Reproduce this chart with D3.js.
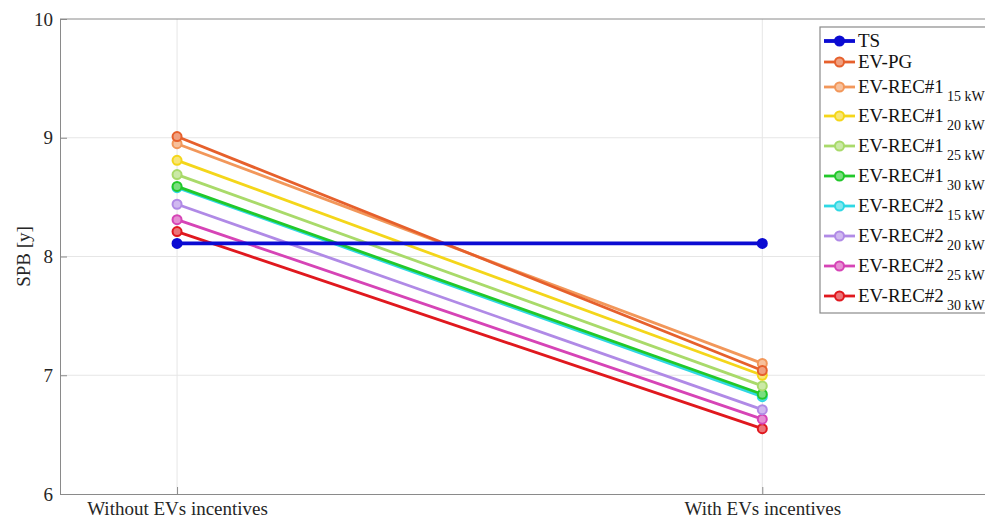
<!DOCTYPE html>
<html>
<head>
<meta charset="utf-8">
<script src="https://cdn.jsdelivr.net/npm/d3@7"></script>
<style>
  html, body { margin: 0; padding: 0; background: #fff; }
  svg { display: block; }
</style>
</head>
<body>
<svg id="chart" width="985" height="520"></svg>
<script>
// Scenarios on the x axis
const categories = ["Without EVs incentives", "With EVs incentives"];

// Series names (main part and subscript) and their colours
const seriesNames = ["TS", "EV-PG", "EV-REC#1", "EV-REC#1", "EV-REC#1", "EV-REC#1",
                     "EV-REC#2", "EV-REC#2", "EV-REC#2", "EV-REC#2"];
const seriesSubs = ["", "", "15 kW", "20 kW", "25 kW", "30 kW",
                    "15 kW", "20 kW", "25 kW", "30 kW"];
const seriesColors = ["#0b0bd2", "#e6602c", "#f2975a", "#f4d61a", "#a9da6a", "#22c82a",
                      "#2fd8e4", "#b08ae6", "#d644b6", "#e0181e"];

// Simple pay-back [years] for each series: [without, with] EV incentives
const spbTS       = [8.11, 8.11];
const spbPG       = [9.01, 7.04];
const spbREC1_15  = [8.95, 7.10];
const spbREC1_20  = [8.81, 7.00];
const spbREC1_25  = [8.69, 6.91];
const spbREC1_30  = [8.59, 6.84];
const spbREC2_15  = [8.58, 6.82];
const spbREC2_20  = [8.44, 6.71];
const spbREC2_25  = [8.31, 6.63];
const spbREC2_30  = [8.21, 6.55];

const yTicks = [6, 7, 8, 9, 10];

const seriesValues = [spbTS, spbPG, spbREC1_15, spbREC1_20, spbREC1_25, spbREC1_30,
                      spbREC2_15, spbREC2_20, spbREC2_25, spbREC2_30];

const FONT = '"Liberation Serif", "Times New Roman", serif';
const svg = d3.select("#chart");
const mLeft = 60, mTop = 19, mBottom = 494, mRight = 1004;

const x = d3.scaleLinear().domain([0.8, 2.413]).range([mLeft, mRight]);
const y = d3.scaleLinear().domain([6, 10]).range([mBottom, mTop]);

// Grid lines
const grid = svg.append("g");
grid.selectAll("line.hy").data(yTicks.slice(1, -1)).join("line")
  .attr("x1", mLeft).attr("x2", mRight)
  .attr("y1", d => y(d)).attr("y2", d => y(d))
  .attr("stroke", "#e6e6e6").attr("stroke-width", 1);
grid.selectAll("line.vx").data(categories).join("line")
  .attr("x1", (d, i) => x(i + 1)).attr("x2", (d, i) => x(i + 1))
  .attr("y1", mTop).attr("y2", mBottom)
  .attr("stroke", "#e6e6e6").attr("stroke-width", 1);

// Y axis
const yAxis = d3.axisLeft(y).tickValues(yTicks).tickFormat(d3.format("d"))
  .tickSize(-7).tickPadding(7);
const gy = svg.append("g").attr("transform", `translate(${mLeft},0)`).call(yAxis);
gy.select(".domain").attr("stroke", "#8a8a8a");
gy.selectAll(".tick line").attr("stroke", "#8a8a8a");
gy.selectAll(".tick text").attr("fill", "#262626")
  .style("font-family", FONT).style("font-size", "19px");

// X axis
const xAxis = d3.axisBottom(x).tickValues([1, 2]).tickFormat(d => categories[d - 1])
  .tickSize(-7).tickPadding(8);
const gx = svg.append("g").attr("transform", `translate(0,${mBottom})`).call(xAxis);
gx.select(".domain").attr("stroke", "#8a8a8a");
gx.selectAll(".tick line").attr("stroke", "#8a8a8a");
gx.selectAll(".tick text").attr("fill", "#262626")
  .style("font-family", FONT).style("font-size", "19px");

// Top border of the axes box
svg.append("line").attr("x1", mLeft).attr("x2", mRight).attr("y1", mTop).attr("y2", mTop)
  .attr("stroke", "#8a8a8a");

// Y label
svg.append("text")
  .attr("transform", `translate(30,${(mTop + mBottom) / 2}) rotate(-90)`)
  .attr("text-anchor", "middle").attr("fill", "#262626")
  .style("font-family", FONT).style("font-size", "19px")
  .text("SPB [y]");

// Series lines and markers, drawn in reverse so TS ends on top at the crossing
const line = d3.line().x((d, i) => x(i + 1)).y(d => y(d));
const order = d3.range(seriesValues.length).reverse();
const lighter = c => d3.interpolateRgb(c, "#ffffff")(0.4);

order.forEach(k => {
  const g = svg.append("g");
  g.append("path").datum(seriesValues[k]).attr("d", line)
    .attr("fill", "none").attr("stroke", seriesColors[k])
    .attr("stroke-width", k === 0 ? 3.8 : 2.8);
  g.selectAll("circle").data(seriesValues[k]).join("circle")
    .attr("cx", (d, i) => x(i + 1)).attr("cy", d => y(d))
    .attr("r", 4.5)
    .attr("fill", k === 0 ? seriesColors[k] : lighter(seriesColors[k]))
    .attr("stroke", seriesColors[k]).attr("stroke-width", 2);
});

// Legend
const legendTop = 27, legendLeft = 820;
const rowY = [41, 62, 87, 116, 146, 176, 206, 236, 266, 296];
const lg = svg.append("g");
lg.append("rect").attr("x", legendLeft).attr("y", legendTop)
  .attr("width", 190).attr("height", 286)
  .attr("fill", "#fff").attr("stroke", "#8a8a8a").attr("stroke-width", 1.2);
seriesNames.forEach((name, k) => {
  const yy = rowY[k];
  lg.append("line").attr("x1", 824).attr("x2", 855).attr("y1", yy).attr("y2", yy)
    .attr("stroke", seriesColors[k]).attr("stroke-width", k === 0 ? 3.8 : 2.8);
  lg.append("circle").attr("cx", 839.5).attr("cy", yy).attr("r", 4.5)
    .attr("fill", k === 0 ? seriesColors[k] : lighter(seriesColors[k]))
    .attr("stroke", seriesColors[k]).attr("stroke-width", 2);
  const t = lg.append("text").attr("x", 858).attr("y", yy + 6).attr("fill", "#111")
    .style("font-family", FONT).style("font-size", "19px");
  t.append("tspan").text(name);
  if (seriesSubs[k]) {
    t.append("tspan").attr("dx", 3).attr("dy", 8).style("font-size", "14px").text(seriesSubs[k]);
  }
});
</script>
</body>
</html>
